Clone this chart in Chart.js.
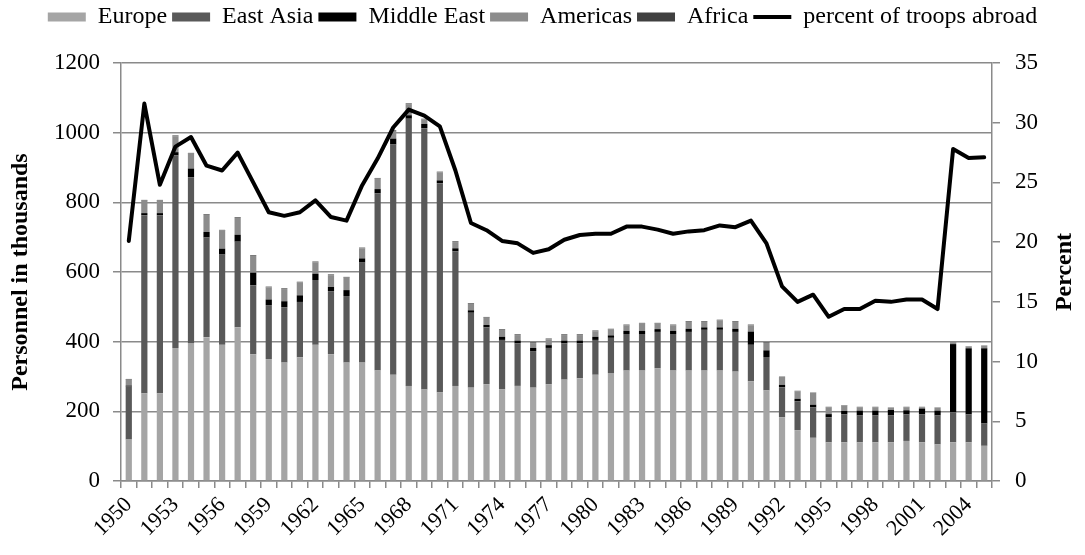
<!DOCTYPE html>
<html>
<head>
<meta charset="utf-8">
<script src="https://cdn.jsdelivr.net/npm/chart.js@4"></script>
<style>
  body { margin: 0; background: #fff; }
  #wrap { width: 1085px; height: 555px; }
</style>
</head>
<body>
<div id="wrap"><canvas id="troopChart" width="1085" height="555"></canvas></div>
<script>
// years on the x axis
const years = [
    1950, 1951, 1952, 1953, 1954, 1955, 1956, 1957, 1958, 1959,
    1960, 1961, 1962, 1963, 1964, 1965, 1966, 1967, 1968, 1969,
    1970, 1971, 1972, 1973, 1974, 1975, 1976, 1977, 1978, 1979,
    1980, 1981, 1982, 1983, 1984, 1985, 1986, 1987, 1988, 1989,
    1990, 1991, 1992, 1993, 1994, 1995, 1996, 1997, 1998, 1999,
    2000, 2001, 2002, 2003, 2004, 2005
];
// only every third year gets a label
const shownYears = [1950, 1953, 1956, 1959, 1962, 1965, 1968, 1971, 1974, 1977, 1980,
    1983, 1986, 1989, 1992, 1995, 1998, 2001, 2004];

// personnel in thousands
const europe = [
    119, 252, 252, 382, 396, 413, 391, 441, 364, 350,
    340, 355, 391, 364, 340, 340, 317, 305, 273, 263,
    255, 273, 268, 278, 263, 273, 268, 278, 291, 295,
    305, 310, 317, 317, 324, 317, 317, 317, 317, 314,
    286, 260, 183, 146, 124, 111, 111, 111, 111, 111,
    115, 111, 105, 111, 111, 101
];
const eastAsia = [
    152, 511, 511, 553, 476, 286, 259, 246, 198, 155,
    159, 159, 186, 181, 191, 287, 509, 661, 767, 750,
    600, 386, 215, 163, 142, 122, 105, 104, 104, 100,
    100, 101, 105, 105, 104, 105, 111, 117, 117, 114,
    105, 96, 86, 83, 87, 72, 80, 77, 77, 77,
    76, 80, 83, 86, 80, 64
];
const middleEast = [
    3, 6, 6, 9, 25, 16, 17, 20, 36, 16,
    17, 19, 18, 12, 17, 12, 12, 17, 10, 12,
    8, 9, 7, 7, 9, 8, 9, 8, 8, 8,
    9, 7, 9, 9, 8, 9, 9, 7, 7, 9,
    38, 19, 7, 7, 8, 9, 10, 14, 14, 16,
    12, 17, 14, 196, 190, 216
];
const americas = [
    17, 36, 36, 46, 43, 49, 52, 48, 48, 35,
    35, 37, 33, 34, 36, 29, 30, 22, 32, 13,
    23, 18, 19, 21, 20, 16, 14, 17, 16, 16,
    16, 17, 16, 21, 16, 16, 20, 16, 20, 20,
    18, 22, 23, 22, 34, 20, 16, 10, 10, 6,
    9, 4, 8, 5, 5, 7
];
const africa = [
    2, 2, 2, 2, 2, 2, 2, 2, 2, 2,
    2, 2, 2, 2, 2, 2, 2, 2, 2, 2,
    2, 2, 2, 2, 2, 2, 2, 2, 2, 2,
    2, 2, 2, 2, 2, 2, 2, 2, 2, 2,
    2, 2, 1, 1, 1, 1, 1, 1, 1, 1,
    1, 1, 1, 1, 1, 1
];
// percent of troops abroad (right axis)
const percentAbroad = [
    20.1, 31.6, 24.8, 28.0, 28.8, 26.4, 26.0, 27.5, 25.0, 22.5,
    22.2, 22.5, 23.5, 22.1, 21.8, 24.75, 27.0, 29.6, 31.1, 30.6,
    29.7, 26.0, 21.6, 21.0, 20.1, 19.9, 19.1, 19.4, 20.2, 20.6,
    20.7, 20.7, 21.3, 21.3, 21.05, 20.7, 20.9, 21.0, 21.4, 21.25,
    21.8, 19.9, 16.3, 15.0, 15.6, 13.75, 14.4, 14.4, 15.1, 15.0,
    15.2, 15.2, 14.4, 27.8, 27.05, 27.1
];

const serif = "'Liberation Serif', 'Times New Roman', serif";
const axisGray = '#8a8a8a';

function barSet(label, data, color) {
    return {
        label: label,
        data: data,
        backgroundColor: color,
        borderWidth: 0,
        barPercentage: 0.4,
        categoryPercentage: 1,
        yAxisID: 'y',
        order: 1
    };
}

// keep the legend band the same height as in the picture
const legendBand = {
    id: 'legendBand',
    beforeLayout(chart) {
        const lg = chart.legend;
        if (lg && !lg._bandFixed) {
            const fit = lg.fit;
            lg.fit = function () {
                fit.call(this);
                this.height = 63;
            };
            lg._bandFixed = true;
        }
    }
};

// right axis title reads bottom to top like the left one
const rightTitle = {
    id: 'rightTitle',
    afterDraw(chart) {
        const ctx = chart.ctx;
        const area = chart.chartArea;
        ctx.save();
        ctx.translate(1065, (area.top + area.bottom) / 2);
        ctx.rotate(-Math.PI / 2);
        ctx.font = "bold 24px " + serif;
        ctx.fillStyle = '#000';
        ctx.textAlign = 'center';
        ctx.textBaseline = 'middle';
        ctx.fillText('Percent', 0, 0);
        ctx.restore();
    }
};

const config = {
    type: 'bar',
    data: {
        labels: years.map(String),
        datasets: [
            barSet('Europe', europe, '#a5a5a5'),
            barSet('East Asia', eastAsia, '#595959'),
            barSet('Middle East', middleEast, '#000000'),
            barSet('Americas', americas, '#8c8c8c'),
            barSet('Africa', africa, '#404040'),
            {
                type: 'line',
                label: 'percent of troops abroad',
                data: percentAbroad,
                borderColor: '#000000',
                backgroundColor: '#000000',
                borderWidth: 4,
                borderJoinStyle: 'round',
                borderCapStyle: 'round',
                pointRadius: 0,
                tension: 0,
                fill: false,
                yAxisID: 'y1',
                order: 0
            }
        ]
    },
    options: {
        responsive: false,
        animation: false,
        layout: { padding: 0 },
        plugins: {
            tooltip: { enabled: false },
            legend: {
                position: 'top',
                labels: {
                    font: { family: serif, size: 24 },
                    color: '#000',
                    usePointStyle: true,
                    pointStyleWidth: 38,
                    boxHeight: 9,
                    padding: 5,
                    sort: (a, b) => a.datasetIndex - b.datasetIndex,
                    generateLabels(chart) {
                        const items = Chart.defaults.plugins.legend.labels.generateLabels(chart);
                        items.forEach(it => {
                            const ds = chart.data.datasets[it.datasetIndex];
                            if (ds.type === 'line') {
                                it.pointStyle = 'line';
                                it.lineWidth = 4;
                                it.strokeStyle = '#000';
                            } else {
                                it.pointStyle = 'rect';
                                it.lineWidth = 0;
                            }
                        });
                        return items;
                    }
                }
            }
        },
        scales: {
            x: {
                stacked: true,
                offset: true,
                afterFit(scale) { scale.height = 74; },
                border: { color: axisGray, width: 1.5 },
                grid: {
                    offset: true,
                    drawOnChartArea: false,
                    drawTicks: true,
                    tickLength: 7,
                    color: axisGray,
                    lineWidth: 1.5
                },
                ticks: {
                    autoSkip: false,
                    maxRotation: 45,
                    minRotation: 45,
                    padding: 4,
                    color: '#000',
                    font: { family: serif, size: 22 },
                    callback(value, index) {
                        const yr = years[index];
                        return shownYears.includes(yr) ? String(yr) : '';
                    }
                }
            },
            y: {
                stacked: true,
                position: 'left',
                min: 0,
                max: 1200,
                afterFit(scale) { scale.width = 121; },
                border: { color: axisGray, width: 1.5 },
                grid: {
                    color: axisGray,
                    lineWidth: 1.5,
                    drawTicks: true,
                    tickLength: 8
                },
                ticks: {
                    stepSize: 200,
                    padding: 13,
                    color: '#000',
                    font: { family: serif, size: 23 },
                    callback: (value) => String(value)
                },
                title: {
                    display: true,
                    text: 'Personnel in thousands',
                    color: '#000',
                    font: { family: serif, size: 24, weight: 'bold', lineHeight: 1.2 },
                    padding: { top: 6, bottom: 0 }
                }
            },
            y1: {
                position: 'right',
                min: 0,
                max: 35,
                afterFit(scale) { scale.width = 93; },
                border: { color: axisGray, width: 1.5 },
                grid: {
                    drawOnChartArea: false,
                    drawTicks: true,
                    tickLength: 8,
                    color: axisGray,
                    lineWidth: 1.5
                },
                ticks: {
                    stepSize: 5,
                    padding: 15,
                    color: '#000',
                    font: { family: serif, size: 23 },
                    callback: (value) => String(value)
                }
            }
        }
    },
    plugins: [legendBand, rightTitle]
};

const canvas = document.getElementById('troopChart');
window.troopChart = new Chart(canvas, config);
</script>
</body>
</html>
